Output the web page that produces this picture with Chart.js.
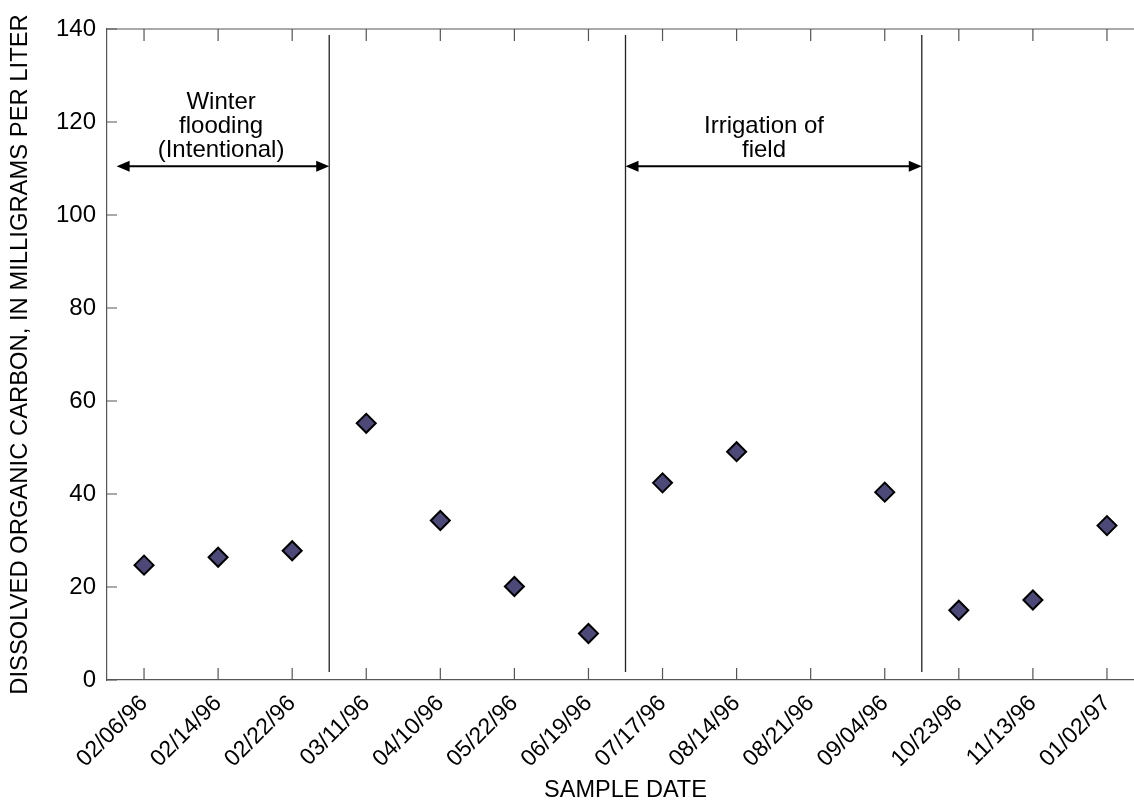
<!DOCTYPE html>
<html>
<head>
<meta charset="utf-8">
<script src="https://cdn.jsdelivr.net/npm/chart.js@4/dist/chart.umd.min.js"></script>
<style>
  html, body { margin: 0; padding: 0; background: #fff; overflow: hidden; }
  #wrap { width: 1134px; height: 802px; overflow: hidden; }
  #docChart { display: block; }
</style>
</head>
<body>
<!-- the plot runs a little past the right edge of the picture, so the canvas is cropped -->
<div id="wrap"><canvas id="docChart" width="1146" height="802"></canvas></div>
<script>
// sample dates on the x axis
const sampleDates = ['02/06/96', '02/14/96', '02/22/96', '03/11/96', '04/10/96', '05/22/96', '06/19/96',
  '07/17/96', '08/14/96', '08/21/96', '09/04/96', '10/23/96', '11/13/96', '01/02/97'];
// dissolved organic carbon, mg/L (no value for 08/21/96)
const docValues = [24.7, 26.4, 27.8, 55.2, 34.3, 20.1, 10.0, 42.4, 49.1, null, 40.4, 15.0, 17.2, 33.2];
const yTicks = [0, 20, 40, 60, 80, 100, 120, 140];

// period boundaries, in category index units
const dividers = [2.5, 6.5, 10.5];
const dividerSpan = [1.7, 138.7];
// annotated periods: arrow start/end (index units), arrow level (mg/L), text
const periodFrom = [-0.37, 6.5];
const periodTo = [2.5, 10.5];
const periodLevel = [110.5, 110.5];
const periodTextX = [1.04, 8.37];
const periodTextY = [114, 114];
const periodText = [['Winter', 'flooding', '(Intentional)'], ['Irrigation of', 'field']];

const FONT = '"Liberation Sans", Arial, Helvetica, sans-serif';
Chart.defaults.font.family = FONT;
Chart.defaults.font.size = 24;
Chart.defaults.color = '#000';

const axisColor = '#555';

const frameAndNotes = {
  id: 'frameAndNotes',
  afterDraw(chart) {
    const { ctx, chartArea: a } = chart;
    const xs = chart.scales.x, ys = chart.scales.y;
    ctx.save();

    // top and right frame lines
    ctx.strokeStyle = axisColor;
    ctx.lineWidth = 1.2;
    ctx.beginPath();
    ctx.moveTo(a.left, a.top); ctx.lineTo(a.right, a.top);
    ctx.moveTo(a.right, a.top); ctx.lineTo(a.right, a.bottom);
    ctx.stroke();

    // inward tick marks on all four sides
    ctx.beginPath();
    xs.ticks.forEach((t, i) => {
      const px = xs.getPixelForTick(i);
      ctx.moveTo(px, a.bottom); ctx.lineTo(px, a.bottom - 12);
      ctx.moveTo(px, a.top); ctx.lineTo(px, a.top + 12);
    });
    yTicks.forEach(v => {
      const py = ys.getPixelForValue(v);
      ctx.moveTo(a.left, py); ctx.lineTo(a.left + 10, py);
      ctx.moveTo(a.right, py); ctx.lineTo(a.right - 10, py);
    });
    ctx.stroke();

    // period dividers
    ctx.strokeStyle = '#222';
    ctx.lineWidth = 1.3;
    ctx.beginPath();
    dividers.forEach(d => {
      const px = xs.getPixelForValue(d);
      ctx.moveTo(px, ys.getPixelForValue(dividerSpan[1]));
      ctx.lineTo(px, ys.getPixelForValue(dividerSpan[0]));
    });
    ctx.stroke();

    // double-headed arrows with labels
    ctx.strokeStyle = '#000';
    ctx.fillStyle = '#000';
    ctx.lineWidth = 2;
    periodFrom.forEach((f, k) => {
      const x1 = xs.getPixelForValue(f);
      const x2 = xs.getPixelForValue(periodTo[k]);
      const y = ys.getPixelForValue(periodLevel[k]);
      const head = 13, half = 5.5;
      ctx.beginPath();
      ctx.moveTo(x1 + head - 2, y); ctx.lineTo(x2 - head + 2, y);
      ctx.stroke();
      ctx.beginPath();
      ctx.moveTo(x1, y); ctx.lineTo(x1 + head, y - half); ctx.lineTo(x1 + head, y + half); ctx.closePath();
      ctx.moveTo(x2, y); ctx.lineTo(x2 - head, y - half); ctx.lineTo(x2 - head, y + half); ctx.closePath();
      ctx.fill();

      const tx = xs.getPixelForValue(periodTextX[k]);
      const ty = ys.getPixelForValue(periodTextY[k]);
      const lines = periodText[k];
      ctx.font = '24px ' + FONT;
      ctx.textAlign = 'center';
      ctx.textBaseline = 'middle';
      lines.forEach((s, j) => {
        ctx.fillText(s, tx, ty - (lines.length - 1 - j) * 24);
      });
    });
    ctx.restore();
  }
};

new Chart(document.getElementById('docChart'), {
  type: 'line',
  data: {
    labels: sampleDates,
    datasets: [{
      label: 'Dissolved organic carbon',
      data: docValues,
      showLine: false,
      pointStyle: 'rectRot',
      pointRadius: 9.5,
      pointBackgroundColor: '#4c4878',
      pointBorderColor: '#000',
      pointBorderWidth: 2
    }]
  },
  options: {
    responsive: false,
    animation: false,
    events: [],
    layout: { autoPadding: false, padding: { top: 29, right: 2, left: 0, bottom: 0 } },
    plugins: { legend: { display: false }, tooltip: { enabled: false } },
    scales: {
      x: {
        type: 'category',
        offset: true,
        grid: { drawOnChartArea: false, drawTicks: false },
        border: { color: axisColor, width: 1.2 },
        ticks: { maxRotation: 45, minRotation: 45, padding: 10, autoSkip: false, font: { size: 23 } },
        title: { display: true, text: 'SAMPLE DATE', padding: 0, font: { size: 23.5, lineHeight: 1 } },
        afterFit: s => { s.height = 122; s.paddingLeft = 0; s.paddingRight = 0; }
      },
      y: {
        min: 0,
        max: 140,
        afterBuildTicks: s => { s.ticks = yTicks.map(v => ({ value: v })); },
        grid: { drawOnChartArea: false, drawTicks: false },
        border: { color: axisColor, width: 1.2 },
        ticks: { padding: 11 },
        title: { display: true, text: 'DISSOLVED ORGANIC CARBON, IN MILLIGRAMS PER LITER', padding: { top: 9, bottom: 0 }, font: { size: 23.8, lineHeight: 1 } },
        afterFit: s => { s.width = 107; s.paddingTop = 0; s.paddingBottom = 0; }
      }
    }
  },
  plugins: [frameAndNotes]
});
</script>
</body>
</html>
